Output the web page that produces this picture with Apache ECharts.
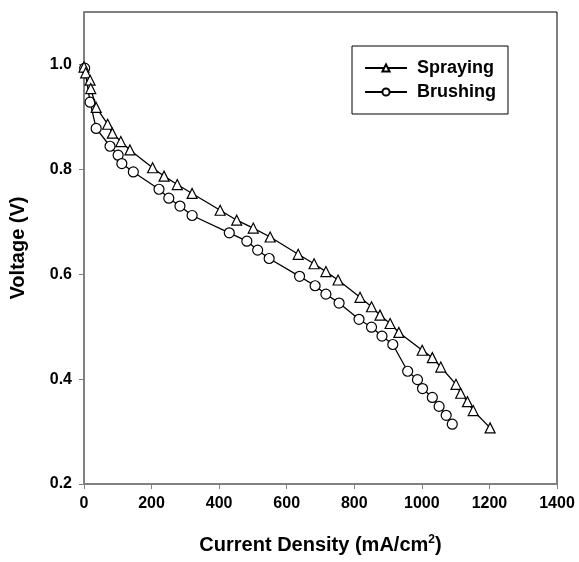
<!DOCTYPE html>
<html>
<head>
<meta charset="utf-8">
<style>
  html, body { margin: 0; padding: 0; background: #fff; }
  #chart { width: 579px; height: 562px; }
</style>
<script src="https://cdn.jsdelivr.net/npm/echarts@6/dist/echarts.min.js"></script>
</head>
<body>
<div id="chart"></div>
<script>
// 电流密度 (mA/cm2) 与电压 (V)
const sprayingX = [0, 5, 18, 20, 36, 70, 84, 109, 136, 203, 237, 276, 320, 403, 452, 501, 551, 634, 681, 716, 752, 817, 851, 876, 906, 932, 1001, 1031, 1056, 1101, 1115, 1135, 1152, 1202];
const sprayingV = [0.995, 0.984, 0.970, 0.954, 0.918, 0.886, 0.869, 0.853, 0.837, 0.803, 0.787, 0.771, 0.754, 0.722, 0.703, 0.688, 0.671, 0.638, 0.620, 0.605, 0.589, 0.556, 0.538, 0.522, 0.506, 0.489, 0.455, 0.441, 0.423, 0.390, 0.373, 0.357, 0.340, 0.307];

const brushingX = [2, 18, 36, 77, 101, 112, 146, 222, 251, 284, 320, 430, 482, 514, 548, 638, 684, 716, 755, 814, 851, 882, 914, 958, 987, 1002, 1031, 1051, 1072, 1090];
const brushingV = [0.993, 0.928, 0.878, 0.844, 0.827, 0.811, 0.795, 0.762, 0.745, 0.730, 0.712, 0.679, 0.663, 0.646, 0.630, 0.596, 0.578, 0.562, 0.545, 0.514, 0.499, 0.482, 0.466, 0.415, 0.399, 0.382, 0.365, 0.348, 0.331, 0.314];

const xTicks = { min: 0, max: 1400, interval: 200 };
const yTicks = { min: 0.2, max: 1.1, interval: 0.2 };

const FONT = 'Liberation Sans, Arial, sans-serif';

const zip = (xs, ys) => xs.map((x, i) => [x, ys[i]]);

const chart = echarts.init(document.getElementById('chart'), null, { renderer: 'canvas' });

const option = {
  backgroundColor: '#fff',
  animation: false,
  grid: {
    left: 84, right: 22, top: 12, bottom: 78,
    show: true, borderColor: '#000', borderWidth: 1, backgroundColor: 'transparent'
  },
  legend: {
    orient: 'vertical',
    left: 352, top: 46,
    padding: [13, 12, 13, 12],
    itemWidth: 42, itemHeight: 9, itemGap: 6,
    borderColor: '#000', borderWidth: 1,
    textStyle: { fontFamily: FONT, fontWeight: 'bold', fontSize: 18, color: '#000', padding: [0, 0, 0, 5] },
    data: ['Spraying', 'Brushing']
  },
  xAxis: {
    type: 'value',
    min: xTicks.min, max: xTicks.max, interval: xTicks.interval,
    name: 'Current Density (mA/cm{sup|2})',
    nameLocation: 'middle', nameGap: 50,
    nameTextStyle: {
      fontFamily: FONT, fontWeight: 'bold', fontSize: 20, color: '#000',
      rich: { sup: { fontFamily: FONT, fontWeight: 'bold', fontSize: 12, verticalAlign: 'top', padding: [0, 0, 10, 0] } }
    },
    axisLine: { lineStyle: { color: '#808080', width: 2 } },
    axisTick: { show: true, inside: false, length: 5, lineStyle: { color: '#808080', width: 1 } },
    axisLabel: {
      fontFamily: FONT, fontWeight: 'bold', fontSize: 16, color: '#000', margin: 12,
      formatter: (v) => String(v)
    },
    splitLine: { show: false }
  },
  yAxis: {
    type: 'value',
    min: yTicks.min, max: yTicks.max, interval: yTicks.interval,
    name: 'Voltage (V)',
    nameLocation: 'middle', nameGap: 56,
    nameTextStyle: { fontFamily: FONT, fontWeight: 'bold', fontSize: 20, color: '#000' },
    axisLine: { lineStyle: { color: '#808080', width: 2 } },
    axisTick: { show: true, inside: false, length: 5, lineStyle: { color: '#808080', width: 1 } },
    axisLabel: {
      fontFamily: FONT, fontWeight: 'bold', fontSize: 16, color: '#000', margin: 12,
      showMaxLabel: false,
      formatter: (v) => v.toFixed(1)
    },
    splitLine: { show: false }
  },
  series: [
    {
      name: 'Spraying',
      type: 'line',
      data: zip(sprayingX, sprayingV),
      symbol: 'triangle',
      symbolSize: 10,
      showAllSymbol: true,
      lineStyle: { color: '#000', width: 1.3 },
      itemStyle: { color: '#fff', borderColor: '#000', borderWidth: 1.2 },
      z: 3
    },
    {
      name: 'Brushing',
      type: 'line',
      data: zip(brushingX, brushingV),
      symbol: 'circle',
      symbolSize: 10,
      showAllSymbol: true,
      lineStyle: { color: '#000', width: 1.3 },
      itemStyle: { color: '#fff', borderColor: '#000', borderWidth: 1.2 },
      z: 2
    }
  ]
};

chart.setOption(option);
</script>
</body>
</html>
